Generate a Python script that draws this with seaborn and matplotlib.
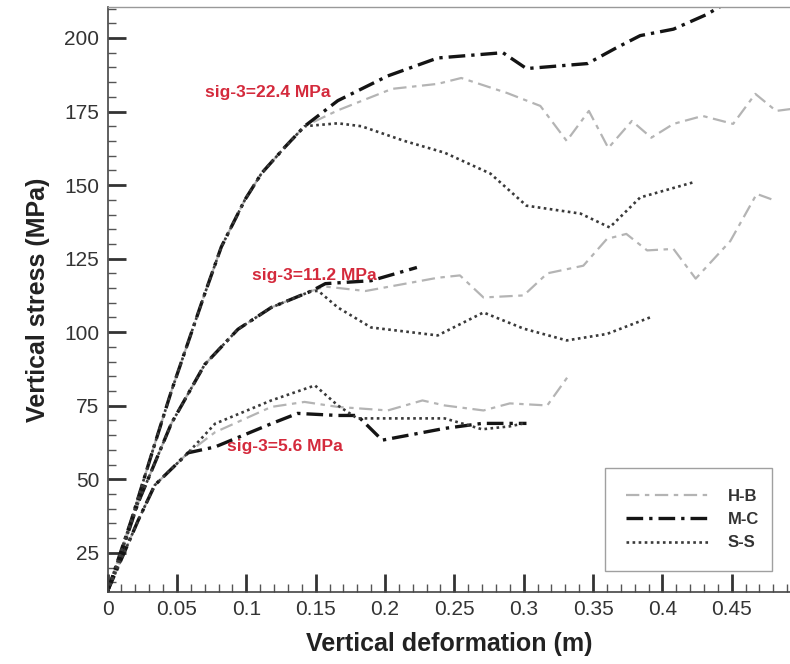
import numpy as np
import pandas as pd
import matplotlib.pyplot as plt
import seaborn as sns
from matplotlib.ticker import MultipleLocator, FixedLocator, FixedFormatter
from matplotlib.lines import Line2D

sns.set_theme(style='white')
plt.rcParams['font.family'] = ['Liberation Sans', 'DejaVu Sans']

# shared loading branches (all models coincide at the start)
x_224_start = [0, 0.017, 0.034, 0.046, 0.070, 0.082, 0.099, 0.111, 0.128, 0.142]
y_224_start = [12, 36, 62, 80, 113, 129, 145, 154, 163, 170]
x_112_start = [0, 0.0075, 0.022, 0.046, 0.070, 0.094, 0.118, 0.147]
y_112_start = [12, 21.6, 42, 69, 89, 101, 108.4, 114]
x_56_start = [0, 0.022, 0.034, 0.058]
y_56_start = [12, 36, 48, 59]

# sig-3 = 22.4 MPa
hb_224_x = [0.166, 0.205, 0.238, 0.255, 0.288, 0.312, 0.331, 0.347, 0.361, 0.378, 0.392, 0.408, 0.429, 0.451, 0.467, 0.482, 0.495]
hb_224_y = [175.4, 182.7, 184.4, 186.4, 181.3, 176.9, 165, 175.2, 162.6, 171.8, 166.1, 170.8, 173.5, 170.8, 181, 175.2, 176]
mc_224_x = [0.166, 0.202, 0.238, 0.285, 0.302, 0.346, 0.367, 0.384, 0.408, 0.432, 0.45]
mc_224_y = [178.7, 187.1, 193.2, 195, 189.6, 191.3, 196.7, 200.8, 203, 208, 213]
ss_224_x = [0.166, 0.183, 0.214, 0.243, 0.276, 0.302, 0.341, 0.362, 0.384, 0.422]
ss_224_y = [171, 170, 165, 161, 153.9, 143, 140.3, 135.6, 145.8, 150.9]

# sig-3 = 11.2 MPa
hb_112_x = [0.157, 0.186, 0.238, 0.254, 0.271, 0.3, 0.317, 0.343, 0.36, 0.374, 0.389, 0.408, 0.424, 0.449, 0.468, 0.482]
hb_112_y = [115.5, 114, 118.5, 119.3, 111.8, 112.5, 120, 122.6, 131.7, 133.4, 127.8, 128.3, 118.2, 131, 147, 144.6]
mc_112_x = [0.157, 0.19, 0.223]
mc_112_y = [116.5, 117.5, 122]
ss_112_x = [0.152, 0.166, 0.19, 0.238, 0.271, 0.3, 0.331, 0.36, 0.391]
ss_112_y = [114, 108.4, 101.6, 98.9, 106.7, 101.2, 97.2, 99.4, 105]

# sig-3 = 5.6 MPa
hb_56_x = [0.0775, 0.118, 0.142, 0.166, 0.202, 0.227, 0.243, 0.271, 0.29, 0.317, 0.332]
hb_56_y = [66, 74.6, 76.3, 74.6, 73.4, 76.8, 75.1, 73.4, 75.8, 75.1, 85]
mc_56_x = [0.0775, 0.118, 0.137, 0.166, 0.18, 0.198, 0.243, 0.27, 0.302]
mc_56_y = [61, 68.9, 72.4, 71.7, 71.7, 63.3, 67.3, 69, 69]
ss_56_x = [0.0775, 0.118, 0.1495, 0.166, 0.18, 0.243, 0.27, 0.29, 0.3]
ss_56_y = [68.9, 76.8, 81.9, 75.1, 70.7, 70.7, 67, 68, 69]

models = ['H-B', 'M-C', 'S-S']
labels_sig = ['sig-3=22.4 MPa', 'sig-3=11.2 MPa', 'sig-3=5.6 MPa']
label_x = [0.0703, 0.104, 0.086]
label_y = [181.3, 119.2, 61]

curves = [
    ('H-B', '22.4', x_224_start + hb_224_x, y_224_start + hb_224_y),
    ('M-C', '22.4', x_224_start + mc_224_x, y_224_start + mc_224_y),
    ('S-S', '22.4', x_224_start + ss_224_x, y_224_start + ss_224_y),
    ('H-B', '11.2', x_112_start + hb_112_x, y_112_start + hb_112_y),
    ('M-C', '11.2', x_112_start + mc_112_x, y_112_start + mc_112_y),
    ('S-S', '11.2', x_112_start + ss_112_x, y_112_start + ss_112_y),
    ('H-B', '5.6', x_56_start + hb_56_x, y_56_start + hb_56_y),
    ('M-C', '5.6', x_56_start + mc_56_x, y_56_start + mc_56_y),
    ('S-S', '5.6', x_56_start + ss_56_x, y_56_start + ss_56_y),
]
rows = []
for model, sig, xs, ys in curves:
    for i, (xv, yv) in enumerate(zip(xs, ys)):
        rows.append({'model': model, 'case': model + sig, 'order': i, 'x': xv, 'y': yv})
df = pd.DataFrame(rows)

colors = {'H-B': '#b4b4b4', 'M-C': '#141414', 'S-S': '#3a3a3a'}
widths = {'H-B': 1.6, 'M-C': 2.4, 'S-S': 1.9}
dashes = {'H-B': (6, 2.5, 2, 2.5), 'M-C': (5, 1.8, 1, 1.8), 'S-S': (1, 1.3)}

fig = plt.figure(figsize=(7.9, 6.64), dpi=100)
ax = fig.add_axes([0.1362, 0.1089, 0.8638, 0.880])

sns.lineplot(data=df, x='x', y='y', hue='model', style='model', size='model',
             units='case', estimator=None, sort=False, palette=colors,
             dashes=dashes, sizes=widths, legend=False, ax=ax)

for t, tx, ty in zip(labels_sig, label_x, label_y):
    ax.text(tx, ty, t, color='#d42a3c', fontsize=12.5, fontweight='bold',
            ha='left', va='center')

ax.set_xlim(0, 0.492)
ax.set_ylim(11.8, 210.4)
xt = [0, 0.05, 0.1, 0.15, 0.2, 0.25, 0.3, 0.35, 0.4, 0.45]
ax.xaxis.set_major_locator(FixedLocator(xt))
ax.xaxis.set_major_formatter(FixedFormatter(['0', '0.05', '0.1', '0.15', '0.2', '0.25', '0.3', '0.35', '0.4', '0.45']))
ax.yaxis.set_major_locator(FixedLocator([25, 50, 75, 100, 125, 150, 175, 200]))
ax.xaxis.set_minor_locator(MultipleLocator(0.01))
ax.yaxis.set_minor_locator(MultipleLocator(5))
ax.tick_params(which='major', direction='in', length=13, width=2, color='#333333',
               labelsize=15, labelcolor='#333333', pad=6)
ax.tick_params(which='minor', direction='in', length=6, width=1, color='#555555')
ax.tick_params(axis='x', which='both', bottom=True)
ax.tick_params(axis='y', which='both', left=True)

ax.spines['right'].set_visible(False)
ax.spines['top'].set_color('#999999')
ax.spines['top'].set_linewidth(1)
ax.spines['left'].set_color('#444444')
ax.spines['bottom'].set_color('#444444')
ax.spines['left'].set_linewidth(1.2)
ax.spines['bottom'].set_linewidth(1.2)

ax.set_xlabel('Vertical deformation (m)', fontsize=18, fontweight='bold', color='#222222', labelpad=9)
ax.set_ylabel('Vertical stress (MPa)', fontsize=18, fontweight='bold', color='#222222', labelpad=10)

handles = [Line2D([0], [0], color=colors[m], linewidth=widths[m], dashes=dashes[m]) for m in models]
leg = ax.legend(handles, models, loc='upper left', bbox_to_anchor=(0.729, 0.2117, 0.245, 0.0),
                mode='expand', frameon=True, fancybox=False, handlelength=5.0,
                handletextpad=1.1, labelspacing=0.5, borderpad=1.25, borderaxespad=0,
                prop={'weight': 'bold', 'size': 12})
leg.get_frame().set_edgecolor('#888888')
leg.get_frame().set_linewidth(1)
for txt in leg.get_texts():
    txt.set_color('#333333')

fig.savefig('out.png', dpi=100)
